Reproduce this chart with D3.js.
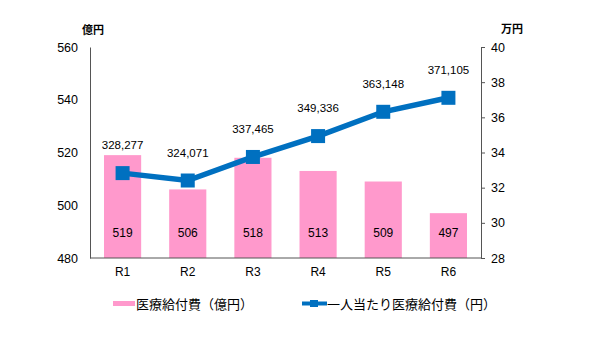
<!DOCTYPE html>
<html>
<head>
<meta charset="utf-8">
<script src="https://cdn.jsdelivr.net/npm/d3@7/dist/d3.min.js"></script>
<style>
  html, body { margin: 0; padding: 0; background: #fff; }
  svg text { font-family: "Liberation Sans", Arial, "Noto Sans CJK JP", sans-serif; fill: #000; }
  .jp { font-family: "Noto Sans CJK JP", sans-serif; }
</style>
</head>
<body>
<svg id="chart" width="600" height="348"></svg>
<script>
// Fiscal years (Reiwa)
const years = ["R1", "R2", "R3", "R4", "R5", "R6"];
// Total medical benefit costs (100 million yen)
const totalCost = [519, 506, 518, 513, 509, 497];
// Medical benefit cost per person (yen)
const perPerson = [328277, 324071, 337465, 349336, 363148, 371105];
// Axis ticks
const leftTicks = [480, 500, 520, 540, 560];
const rightTicks = [28, 30, 32, 34, 36, 38, 40];

const pink = "#FF99CC";
const blue = "#0070C0";

const svg = d3.select("#chart");
const m = { left: 90, right: 481, top: 47, bottom: 258 };

const x = d3.scaleBand().domain(years).range([m.left, m.right]).paddingInner(0.43).paddingOuter(0.215);
const yL = d3.scaleLinear().domain([480, 560]).range([m.bottom, m.top]);
const yR = d3.scaleLinear().domain([28, 40]).range([m.bottom, m.top]);

// Bars
svg.append("g").selectAll("rect").data(years).join("rect")
  .attr("x", d => x(d))
  .attr("y", (d, i) => yL(totalCost[i]))
  .attr("width", x.bandwidth())
  .attr("height", (d, i) => yL(480) - yL(totalCost[i]))
  .attr("fill", pink);

// Bar value labels
svg.append("g").selectAll("text").data(years).join("text")
  .attr("x", d => x(d) + x.bandwidth() / 2)
  .attr("y", m.bottom - 21)
  .attr("text-anchor", "middle")
  .attr("font-size", 12)
  .text((d, i) => totalCost[i]);

// Left axis
const axL = svg.append("g").attr("transform", `translate(${m.left},0)`)
  .call(d3.axisLeft(yL).tickValues(leftTicks).tickSize(0).tickPadding(12));
axL.select(".domain").attr("stroke", "#555");
axL.selectAll("text").attr("font-size", 12.5).attr("font-family", "Liberation Sans, Arial, sans-serif");

// Right axis
const axR = svg.append("g").attr("transform", `translate(${m.right},0)`)
  .call(d3.axisRight(yR).tickValues(rightTicks).tickSize(4).tickPadding(6));
axR.select(".domain").attr("stroke", "#555");
axR.selectAll("line").attr("stroke", "#555");
axR.selectAll("text").attr("font-size", 12.5).attr("font-family", "Liberation Sans, Arial, sans-serif");

// Bottom axis
const axB = svg.append("g").attr("transform", `translate(0,${m.bottom})`)
  .call(d3.axisBottom(x).tickSize(0).tickPadding(9));
axB.select(".domain").attr("stroke", "#555").attr("d", `M${m.left},0H${m.right}`);
axB.selectAll("text").attr("font-size", 12).attr("font-family", "Liberation Sans, Arial, sans-serif");

// Axis unit titles
svg.append("text").attr("class", "jp").attr("x", 82).attr("y", 34).attr("font-size", 11).attr("font-weight", "bold").text("億円");
svg.append("text").attr("class", "jp").attr("x", 501).attr("y", 33).attr("font-size", 11).attr("font-weight", "bold").text("万円");

// Per-person line (plotted in 10,000 yen)
const cx = d => x(d) + x.bandwidth() / 2;
const line = d3.line().x(d => cx(d)).y((d, i) => yR(perPerson[i] / 10000));
svg.append("path").datum(years)
  .attr("d", line)
  .attr("fill", "none")
  .attr("stroke", blue)
  .attr("stroke-width", 5.5);

svg.append("g").selectAll("rect").data(years).join("rect")
  .attr("x", d => cx(d) - 7)
  .attr("y", (d, i) => yR(perPerson[i] / 10000) - 7)
  .attr("width", 14).attr("height", 14)
  .attr("fill", blue);

// Per-person value labels
svg.append("g").selectAll("text").data(years).join("text")
  .attr("x", d => cx(d))
  .attr("y", (d, i) => yR(perPerson[i] / 10000) - 24)
  .attr("text-anchor", "middle")
  .attr("font-size", 11.5)
  .text((d, i) => d3.format(",")(perPerson[i]));

// Legend
const lg = svg.append("g");
lg.append("rect").attr("x", 113).attr("y", 301).attr("width", 22).attr("height", 5).attr("fill", pink);
lg.append("text").attr("class", "jp").attr("x", 136).attr("y", 308.5).attr("font-size", 13).text("医療給付費（億円）");
lg.append("line").attr("x1", 302).attr("x2", 327).attr("y1", 303.5).attr("y2", 303.5).attr("stroke", blue).attr("stroke-width", 4);
lg.append("rect").attr("x", 310).attr("y", 300).attr("width", 8).attr("height", 7).attr("fill", blue);
lg.append("text").attr("class", "jp").attr("x", 327).attr("y", 308.5).attr("font-size", 13).text("一人当たり医療給付費（円）");
</script>
</body>
</html>
